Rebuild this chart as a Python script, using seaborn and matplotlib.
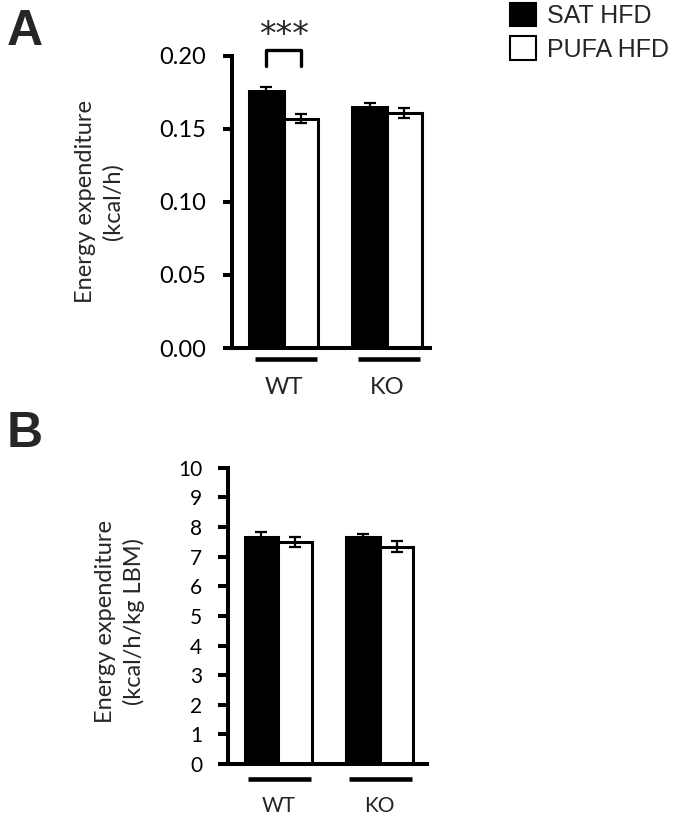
import pandas as pd
import matplotlib
matplotlib.use("Agg")
import matplotlib.pyplot as plt
import matplotlib.transforms as mtransforms
from matplotlib.patches import Patch
import seaborn as sns

# --- data ---
genotypes = ['WT', 'KO']
diets = ['SAT HFD', 'PUFA HFD']

# panel A: energy expenditure (kcal/h)
ee_a_sat = [0.176, 0.165]
ee_a_pufa = [0.157, 0.161]
err_a_sat = [0.0025, 0.0027]
err_a_pufa = [0.0028, 0.0034]
ticks_a = [0.00, 0.05, 0.10, 0.15, 0.20]
ticklabels_a = ['0.00', '0.05', '0.10', '0.15', '0.20']

# panel B: energy expenditure normalised to lean body mass
ee_b_sat = [7.65, 7.65]
ee_b_pufa = [7.50, 7.33]
err_b_sat = [0.17, 0.11]
err_b_pufa = [0.16, 0.18]
ticks_b = list(range(0, 11))

sns.set_style('white')
plt.rcParams['font.family'] = ['Lato', 'DejaVu Sans']


def make_df(sat, pufa, sat_err, pufa_err):
    rows = []
    for g, v, e in zip(genotypes, sat, sat_err):
        rows.append({'genotype': g, 'diet': diets[0], 'ee': v, 'err': e})
    for g, v, e in zip(genotypes, pufa, pufa_err):
        rows.append({'genotype': g, 'diet': diets[1], 'ee': v, 'err': e})
    return pd.DataFrame(rows)


df_a = make_df(ee_a_sat, ee_a_pufa, err_a_sat, err_a_pufa)
df_b = make_df(ee_b_sat, ee_b_pufa, err_b_sat, err_b_pufa)

fig = plt.figure(figsize=(6.78, 8.19), dpi=100)
ax_a = fig.add_axes([0.342, 0.575, 0.292, 0.357])
ax_b = fig.add_axes([0.336, 0.067, 0.294, 0.362])


def draw_panel(ax, df, errs, tick_fs, tick_len, tick_pad, xlab_pad):
    sns.barplot(data=df, x='genotype', y='ee', hue='diet', order=genotypes,
                hue_order=diets, palette=['black', 'white'], edgecolor='black',
                linewidth=2.2, width=0.67, errorbar=None, legend=False, ax=ax)
    # error bars at the bar centres seaborn placed
    for cont, err_list in zip(ax.containers, errs):
        for bar, e in zip(cont, err_list):
            xc = bar.get_x() + bar.get_width() / 2
            ax.errorbar(xc, bar.get_height(), yerr=e, color='black', lw=1.6,
                        capsize=4.5, capthick=1.6, zorder=5)
    for side in ['top', 'right']:
        ax.spines[side].set_visible(False)
    for side in ['left', 'bottom']:
        ax.spines[side].set_linewidth(2.9)
        ax.spines[side].set_color('black')
    ax.tick_params(axis='y', length=tick_len, width=2.9, pad=tick_pad,
                   labelsize=tick_fs, direction='out', left=True, colors='black')
    ax.tick_params(axis='x', length=0, pad=xlab_pad, labelsize=tick_fs)
    ax.set_xlabel('')
    # transform for the group underlines
    trans = mtransforms.blended_transform_factory(ax.transData, ax.transAxes)
    return trans


trans_a = draw_panel(ax_a, df_a, [err_a_sat, err_a_pufa], 17, 6.5, 12, 21)
ax_a.set_ylim(0, 0.20)
ax_a.set_xlim(-0.5, 1.415)
ax_a.set_yticks(ticks_a)
ax_a.set_yticklabels(ticklabels_a)
ax_a.set_ylabel('Energy expenditure\n(kcal/h)', fontsize=17, linespacing=1.35,
                va='center', ha='center')
ax_a.yaxis.set_label_coords(-0.67, 0.5)
for i in range(len(genotypes)):
    ax_a.plot([i - 0.28, i + 0.32], [-0.038, -0.038], color='black', lw=3.3,
              solid_capstyle='butt', transform=trans_a, clip_on=False)

# significance bracket between WT bars
sat_x = ax_a.containers[0][0].get_x() + ax_a.containers[0][0].get_width() / 2
pufa_x = ax_a.containers[1][0].get_x() + ax_a.containers[1][0].get_width() / 2
ax_a.plot([sat_x, sat_x, pufa_x, pufa_x], [0.193, 0.204, 0.204, 0.193],
          color='black', lw=2.4, clip_on=False)
ax_a.text((sat_x + pufa_x) / 2, 0.2135, '***', ha='center', va='center',
          fontsize=24, family='DejaVu Sans', clip_on=False)

trans_b = draw_panel(ax_b, df_b, [err_b_sat, err_b_pufa], 15, 7, 11.5, 23)
ax_b.set_ylim(0, 10)
ax_b.set_xlim(-0.5, 1.47)
ax_b.set_yticks(ticks_b)
ax_b.set_yticklabels([str(t) for t in ticks_b])
ax_b.set_ylabel('Energy expenditure\n(kcal/h/kg LBM)', fontsize=17,
                linespacing=1.35, va='center', ha='center')
ax_b.yaxis.set_label_coords(-0.54, 0.48)
for i in range(len(genotypes)):
    ax_b.plot([i - 0.30, i + 0.32], [-0.05, -0.05], color='black', lw=3.3,
              solid_capstyle='butt', transform=trans_b, clip_on=False)

# legend
handles = [Patch(facecolor='black', edgecolor='black', lw=1.5),
           Patch(facecolor='white', edgecolor='black', lw=1.5)]
fig.legend(handles, diets, loc='upper left', bbox_to_anchor=(0.752, 0.996),
           frameon=False, handlelength=1.05, handleheight=1.05,
           handletextpad=0.45, labelspacing=0.32, borderpad=0, borderaxespad=0,
           prop={'family': 'Liberation Sans', 'size': 18})

# panel letters
fig.text(0.010, 1 - 45 / 819, 'A', fontsize=36, fontweight='bold',
         family='Liberation Sans', va='baseline')
fig.text(0.010, 1 - 447 / 819, 'B', fontsize=36, fontweight='bold',
         family='Liberation Sans', va='baseline')

fig.savefig('out.png', dpi=100)
